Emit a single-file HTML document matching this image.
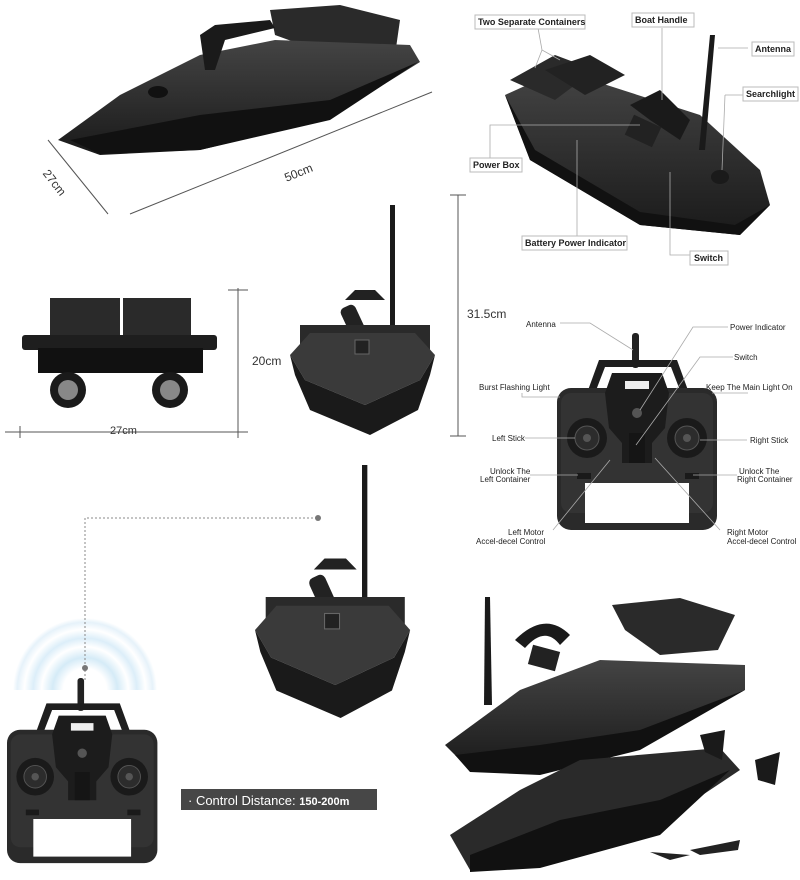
<!DOCTYPE html>
<html><head><meta charset="utf-8"><style>
html,body{margin:0;padding:0;background:#fff;}
svg{display:block;font-family:"Liberation Sans",Arial,sans-serif;}
.lb{font-size:9px;font-weight:bold;fill:#222;}
.sl{font-size:8px;fill:#222;}
.dm{font-size:12px;fill:#333;}
.ln{stroke:#aaa;stroke-width:0.8;fill:none;}
</style></head><body>
<svg width="800" height="880" viewBox="0 0 800 880" xmlns="http://www.w3.org/2000/svg">
<defs>
<linearGradient id="hull" x1="0" y1="0" x2="0" y2="1"><stop offset="0" stop-color="#444"/><stop offset="1" stop-color="#1a1a1a"/></linearGradient>
<radialGradient id="wave" gradientUnits="userSpaceOnUse" cx="85" cy="690" r="72"><stop offset="0.3" stop-color="#fff"/><stop offset="0.45" stop-color="#d5ebf7"/><stop offset="0.6" stop-color="#fff"/><stop offset="0.72" stop-color="#dceef9"/><stop offset="0.84" stop-color="#fff"/><stop offset="0.94" stop-color="#e6f2fa"/><stop offset="1" stop-color="#fff"/></radialGradient>
<g id="ctrl">
  <rect x="75" y="0" width="7" height="35" rx="3" fill="#222"/>
  <path d="M30 60 L42 27 L120 27 L132 60 L124 60 L114 34 L48 34 L38 60Z" fill="#1e1e1e"/>
  <rect x="0" y="55" width="160" height="142" rx="14" fill="#2a2a2a"/>
  <rect x="4" y="60" width="152" height="120" rx="10" fill="#333"/>
  <path d="M55 40 L105 40 L112 60 L108 95 L95 110 L95 130 L65 130 L65 110 L52 95 L48 60Z" fill="#1c1c1c"/>
  <rect x="68" y="48" width="24" height="8" fill="#eee"/>
  <circle cx="80" cy="80" r="5" fill="#555"/>
  <rect x="72" y="100" width="16" height="30" fill="#151515"/>
  <circle cx="30" cy="105" r="20" fill="#1a1a1a"/><circle cx="30" cy="105" r="12" fill="#2c2c2c" stroke="#555"/><circle cx="30" cy="105" r="4" fill="#555"/>
  <circle cx="130" cy="105" r="20" fill="#1a1a1a"/><circle cx="130" cy="105" r="12" fill="#2c2c2c" stroke="#555"/><circle cx="130" cy="105" r="4" fill="#555"/>
  <rect x="20" y="140" width="14" height="6" fill="#1a1a1a"/><rect x="128" y="140" width="14" height="6" fill="#1a1a1a"/>
  <rect x="28" y="150" width="104" height="40" fill="#fff"/>
</g>
<g id="front">
  <rect x="100" y="0" width="5" height="130" fill="#1a1a1a"/>
  <path d="M55 95 L65 85 L85 85 L95 95Z" fill="#222"/>
  <rect x="55" y="100" width="16" height="32" rx="5" fill="#222" transform="rotate(-25 63 116)"/>
  <rect x="10" y="120" width="130" height="25" fill="#2a2a2a"/>
  <path d="M0 150 L20 128 L125 128 L145 150 L130 175 L75 200 L15 175Z" fill="#3a3a3a"/>
  <path d="M0 150 L15 175 L75 200 L130 175 L145 150 L140 170 L128 205 L80 230 L20 205 L5 170Z" fill="#1a1a1a"/>
  <rect x="65" y="135" width="14" height="14" fill="#222" stroke="#666"/>
</g>
</defs>

<!-- top-left boat -->
<path d="M270 10 L340 5 L400 20 L395 55 L330 55 L275 35Z" fill="#2a2a2a"/>
<path d="M58 140 L120 95 L200 55 L275 40 L410 45 L420 62 L330 118 L200 150 L100 155Z" fill="url(#hull)"/>
<path d="M70 140 L200 115 L330 100 L418 62 L330 120 L200 150 L100 154Z" fill="#111"/>
<path d="M200 35 L215 25 L270 20 L275 28 L225 40 L215 70 L205 70Z" fill="#1a1a1a"/>
<ellipse cx="158" cy="92" rx="10" ry="6" fill="#111"/>
<line x1="48" y1="140" x2="108" y2="214" stroke="#555"/>
<line x1="130" y1="214" x2="432" y2="92" stroke="#555"/>
<text class="dm" x="44" y="190" transform="rotate(52 60 180)">27cm</text>
<text class="dm" x="283" y="176" transform="rotate(-22 300 170)">50cm</text>

<!-- top-right boat -->
<path d="M505 95 L560 70 L700 115 L760 170 L770 205 L740 235 L640 225 L530 160Z" fill="url(#hull)"/>
<path d="M505 95 L530 160 L640 225 L740 235 L770 205 L735 225 L640 212 L535 150Z" fill="#111"/>
<path d="M510 80 L555 55 L595 70 L555 100Z" fill="#2a2a2a"/>
<path d="M545 70 L590 55 L625 75 L585 95Z" fill="#222"/>
<path d="M630 105 L660 90 L690 120 L680 140 L650 120Z" fill="#1a1a1a"/>
<rect x="628" y="120" width="30" height="22" fill="#222" transform="rotate(25 643 131)"/>
<polygon points="710,35 715,35 705,150 699,150" fill="#1a1a1a"/>
<ellipse cx="720" cy="177" rx="9" ry="7" fill="#1a1a1a"/>
<g class="ln">
<path d="M538 28 L542 50 L560 60 M542 50 L535 68"/><path d="M662 28 L662 100"/><path d="M718 48 L748 48"/><path d="M725 95 L722 170 M725 95 L743 95"/>
<path d="M490 165 L490 125 L640 125"/><path d="M577 240 L577 140"/><path d="M670 172 L670 255 L690 255"/>
</g>
<g>
<rect x="475" y="15" width="110" height="14" fill="#fff" stroke="#bbb"/><text class="lb" x="478" y="25">Two Separate Containers</text>
<rect x="632" y="13" width="62" height="14" fill="#fff" stroke="#bbb"/><text class="lb" x="635" y="23">Boat Handle</text>
<rect x="752" y="42" width="42" height="14" fill="#fff" stroke="#bbb"/><text class="lb" x="755" y="52">Antenna</text>
<rect x="743" y="87" width="55" height="14" fill="#fff" stroke="#bbb"/><text class="lb" x="746" y="97">Searchlight</text>
<rect x="470" y="158" width="52" height="14" fill="#fff" stroke="#bbb"/><text class="lb" x="473" y="168">Power Box</text>
<rect x="522" y="236" width="105" height="14" fill="#fff" stroke="#bbb"/><text class="lb" x="525" y="246">Battery Power Indicator</text>
<rect x="690" y="251" width="38" height="14" fill="#fff" stroke="#bbb"/><text class="lb" x="694" y="261">Switch</text>
</g>

<!-- middle-left container rear -->
<rect x="50" y="298" width="70" height="40" fill="#2a2a2a"/><rect x="123" y="298" width="68" height="40" fill="#2a2a2a"/>
<rect x="22" y="335" width="195" height="15" rx="3" fill="#1e1e1e"/>
<rect x="38" y="348" width="165" height="25" fill="#111"/>
<circle cx="68" cy="390" r="18" fill="#1a1a1a"/><circle cx="68" cy="390" r="10" fill="#888"/>
<circle cx="170" cy="390" r="18" fill="#1a1a1a"/><circle cx="170" cy="390" r="10" fill="#888"/>
<line x1="5" y1="432" x2="248" y2="432" stroke="#555"/><line x1="238" y1="288" x2="238" y2="438" stroke="#555"/>
<line x1="228" y1="290" x2="248" y2="290" stroke="#555"/><line x1="20" y1="426" x2="20" y2="438" stroke="#555"/>
<text class="dm" x="110" y="434" style="font-size:11px">27cm</text>
<text class="dm" x="252" y="365">20cm</text>

<!-- middle-center front -->
<use href="#front" transform="translate(290,205)"/>
<line x1="458" y1="195" x2="458" y2="436" stroke="#555"/><line x1="450" y1="195" x2="466" y2="195" stroke="#555"/><line x1="450" y1="436" x2="466" y2="436" stroke="#555"/>
<text class="dm" x="467" y="318">31.5cm</text>

<!-- right controller -->
<use href="#ctrl" transform="translate(557,333)"/>
<g class="ln">
<path d="M560 323 L590 323 L633 350"/><path d="M728 327 L693 327 L640 410"/><path d="M733 357 L700 357 L636 445"/>
<path d="M522 393 L522 397 L560 397"/><path d="M748 393 L712 393"/><path d="M525 438 L575 438"/><path d="M747 440 L700 440"/>
<path d="M530 475 L578 475"/><path d="M737 475 L693 475"/><path d="M553 530 L610 460"/><path d="M720 530 L655 458"/>
</g>
<g class="sl">
<text x="526" y="327">Antenna</text><text x="730" y="330">Power Indicator</text><text x="734" y="360">Switch</text>
<text x="479" y="390">Burst Flashing Light</text><text x="706" y="390">Keep The Main Light On</text>
<text x="492" y="441">Left Stick</text><text x="750" y="443">Right Stick</text>
<text x="490" y="474">Unlock The</text><text x="480" y="482">Left Container</text>
<text x="739" y="474">Unlock The</text><text x="737" y="482">Right Container</text>
<text x="508" y="535">Left Motor</text><text x="476" y="544">Accel-decel Control</text>
<text x="727" y="535">Right Motor</text><text x="727" y="544">Accel-decel Control</text>
</g>

<!-- bottom-left controller + waves -->
<path d="M13 690 A72 72 0 0 1 157 690Z" fill="url(#wave)"/>
<path d="M85 680 L85 518 L318 518" stroke="#888" stroke-dasharray="2,2" fill="none"/>
<circle cx="85" cy="668" r="3" fill="#777"/><circle cx="318" cy="518" r="3" fill="#777"/>
<use href="#ctrl" transform="translate(7,678) scale(0.94,0.94)"/>
<rect x="181" y="789" width="196" height="21" fill="#474747"/>
<text x="188" y="805" fill="#fff" style="font-size:13px">· Control Distance: <tspan style="font-weight:bold;font-size:11px">150-200m</tspan></text>

<!-- bottom-center front -->
<use href="#front" transform="translate(255,465) scale(1.07,1.1)"/>

<!-- bottom-right exploded -->
<polygon points="485,597 490,597 492,705 484,705" fill="#1a1a1a"/>
<path d="M515 640 Q545 610 570 635 L560 645 Q545 625 525 648Z" fill="#1a1a1a"/>
<rect x="530" y="648" width="28" height="20" fill="#222" transform="rotate(15 544 658)"/>
<path d="M612 605 L680 598 L735 615 L718 650 L660 655 L625 630Z" fill="#2a2a2a"/>
<path d="M445 745 L520 690 L600 660 L745 665 L745 690 L640 745 L540 770 L470 770Z" fill="url(#hull)"/>
<path d="M455 755 L540 745 L640 730 L745 690 L640 750 L540 775 L470 772Z" fill="#111"/>
<path d="M450 835 L520 790 L580 760 L720 748 L740 770 L650 830 L540 865 L470 870Z" fill="#2a2a2a"/>
<path d="M470 855 L560 820 L660 800 L730 770 L660 835 L540 868 L470 872Z" fill="#111"/>
<path d="M700 735 L725 730 L722 760 L705 752Z" fill="#1a1a1a"/>
<path d="M755 760 L780 752 L775 785 L758 780Z" fill="#1a1a1a"/>
<path d="M690 850 L740 840 L738 850 L700 855Z" fill="#222"/>
<path d="M650 852 L690 855 L670 860Z" fill="#222"/>
</svg>
</body></html>
